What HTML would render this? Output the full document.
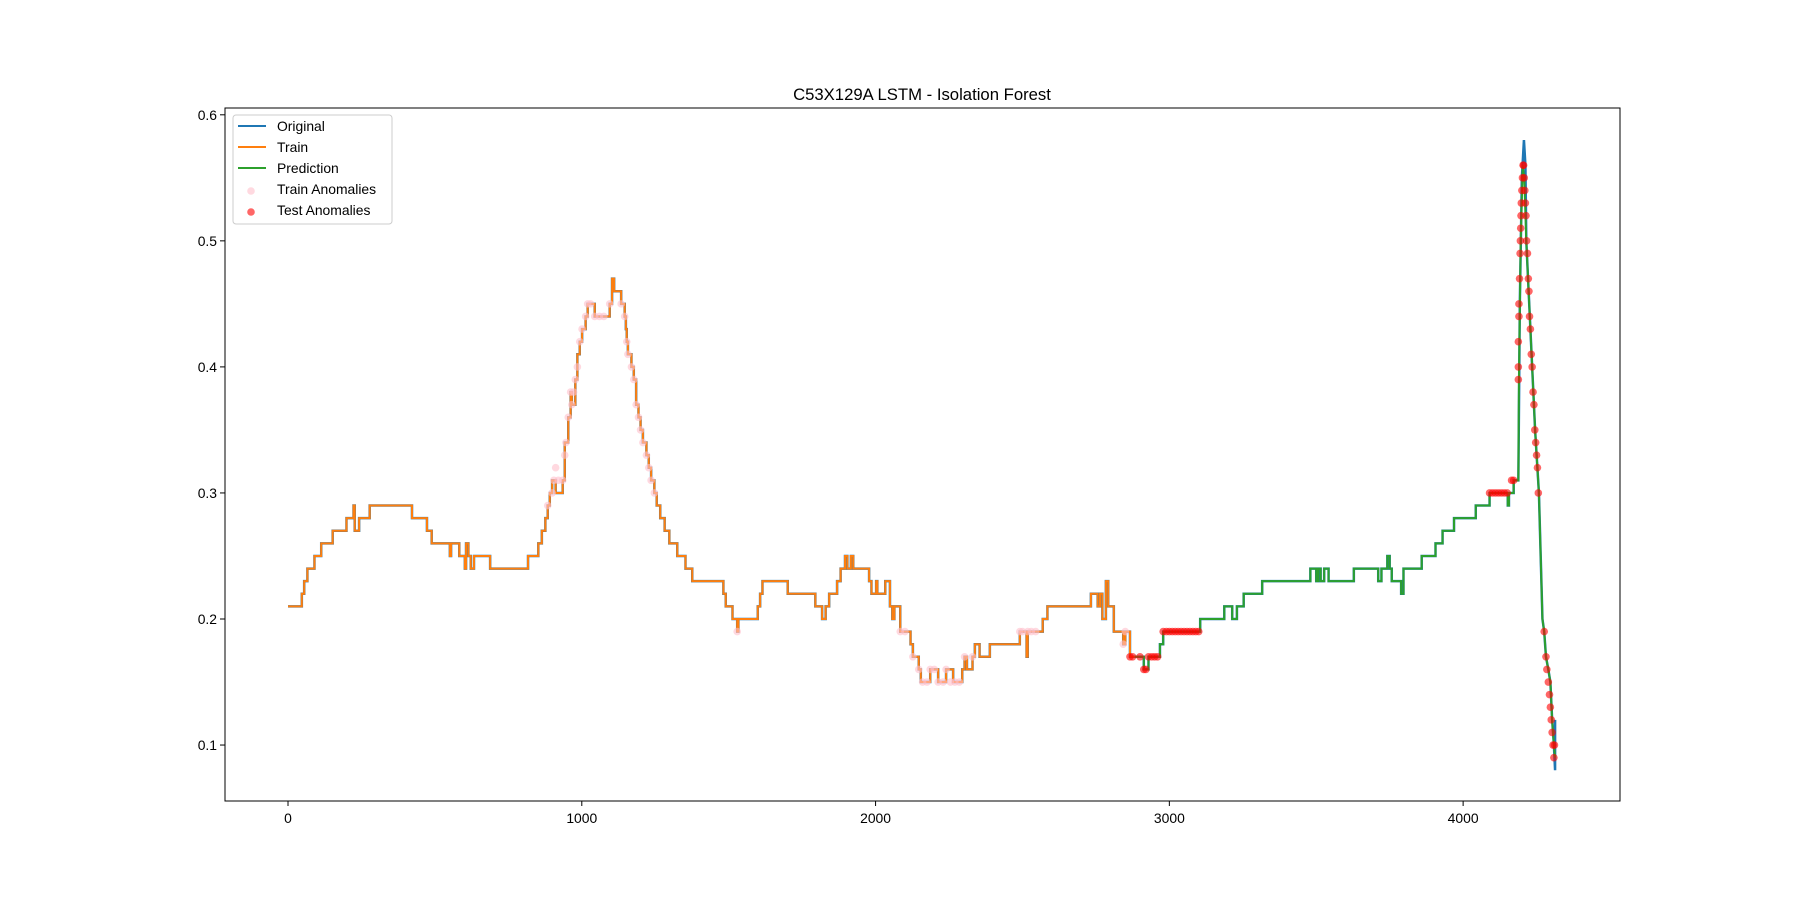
<!DOCTYPE html>
<html><head><meta charset="utf-8">
<style>
body{margin:0;background:#fff;}
svg{display:block;font-family:"Liberation Sans","DejaVu Sans",sans-serif;}
</style></head>
<body>
<svg id="chart" width="1800" height="900" viewBox="0 0 1800 900" xmlns="http://www.w3.org/2000/svg">
<rect x="0" y="0" width="1800" height="900" fill="#fff"/>
<text x="922" y="100" text-anchor="middle" font-size="16.7">C53X129A LSTM - Isolation Forest</text>
<g id="plot"></g>
<g id="axes"></g>
<rect x="225" y="108" width="1395" height="693" fill="none" stroke="#000" stroke-width="1"/>
<g>
<rect x="233" y="115" width="159" height="109" rx="3" fill="#fff" fill-opacity="0.8" stroke="#ccc"/>
<line x1="238" y1="126" x2="266" y2="126" stroke="#1f77b4" stroke-width="2"/>
<text x="277" y="131" font-size="13.9">Original</text>
<line x1="238" y1="147" x2="266" y2="147" stroke="#ff7f0e" stroke-width="2"/>
<text x="277" y="152" font-size="13.9">Train</text>
<line x1="238" y1="168" x2="266" y2="168" stroke="#2ca02c" stroke-width="2"/>
<text x="277" y="173" font-size="13.9">Prediction</text>
<circle cx="251" cy="191" r="3.8" fill="pink" fill-opacity="0.6"/>
<text x="277" y="194" font-size="13.9">Train Anomalies</text>
<circle cx="251" cy="212" r="3.8" fill="red" fill-opacity="0.6"/>
<text x="277" y="215" font-size="13.9">Test Anomalies</text>
</g>
</svg>
<script>
const xTicks=[0,1000,2000,3000,4000];
const yTicks=[0.1,0.2,0.3,0.4,0.5,0.6];
const yTickLabels=["0.1","0.2","0.3","0.4","0.5","0.6"];
const trainX=[0,47,55,66,90,113,152,199,223,227,
242,278,422,473,489,551,555,583,602,606,
614,622,633,688,817,852,864,876,884,891,
899,911,935,942,954,962,966,978,985,993,
1001,1013,1020,1044,1095,1103,1110,1134,1146,1150,
1153,1157,1169,1177,1185,1193,1200,1208,1220,1228,
1236,1247,1255,1267,1282,1298,1325,1353,1376,1482,
1490,1513,1529,1533,1599,1607,1615,1701,1795,1818,
1830,1842,1869,1881,1896,1904,1916,1924,1978,1986,
2002,2006,2033,2049,2057,2064,2084,2119,2127,2147,
2154,2186,2213,2240,2264,2295,2303,2311,2330,2338,
2354,2389,2491,2514,2518,2569,2585,2733,2756,2764,
2772,2784,2792,2811,2843,2850,2866,2882];
const trainY=[0.21,0.22,0.23,0.24,0.25,0.26,0.27,0.28,0.29,0.27,
0.28,0.29,0.28,0.27,0.26,0.25,0.26,0.25,0.24,0.26,
0.25,0.24,0.25,0.24,0.25,0.26,0.27,0.28,0.29,0.30,
0.31,0.30,0.31,0.34,0.36,0.38,0.37,0.39,0.41,0.42,
0.43,0.44,0.45,0.44,0.45,0.47,0.46,0.45,0.44,0.43,
0.42,0.41,0.40,0.39,0.37,0.36,0.35,0.34,0.33,0.32,
0.31,0.30,0.29,0.28,0.27,0.26,0.25,0.24,0.23,0.22,
0.21,0.20,0.19,0.20,0.21,0.22,0.23,0.22,0.21,0.20,
0.21,0.22,0.23,0.24,0.25,0.24,0.25,0.24,0.23,0.22,
0.23,0.22,0.23,0.21,0.20,0.21,0.19,0.18,0.17,0.16,
0.15,0.16,0.15,0.16,0.15,0.16,0.17,0.16,0.17,0.18,
0.17,0.18,0.19,0.17,0.19,0.20,0.21,0.22,0.21,0.22,
0.20,0.23,0.21,0.19,0.18,0.19,0.17,0.17];
const predX=[2882,2913,2929,2968,2979,3105,3187,3214,3230,3253,
3316,3480,3500,3507,3515,3527,3542,3628,3711,3722,
3742,3750,3757,3789,3797,3859,3906,3930,3969,4043,
4090,4152,4156,4172,4188];
const predY=[0.17,0.16,0.17,0.18,0.19,0.20,0.21,0.20,0.21,0.22,
0.23,0.24,0.23,0.24,0.23,0.24,0.23,0.24,0.23,0.24,
0.25,0.24,0.23,0.22,0.24,0.25,0.26,0.27,0.28,0.29,
0.30,0.29,0.30,0.31,0.31];
const predTailX=[4188,4190,4196,4203,4208,4215,4225,4235,4245,4258,4264,4270,4276,4282,4290,4297,4303,4309,4313];
const predTailY=[0.31,0.39,0.50,0.56,0.55,0.50,0.45,0.40,0.35,0.30,0.25,0.20,0.19,0.17,0.16,0.15,0.12,0.10,0.09];
const origTailX=[4188,4193,4200,4207,4212,4215,4225,4235,4245,4258,4264,4270,4276,4282,4290,4297,4303,4309,4313,4313];
const origTailY=[0.31,0.45,0.55,0.58,0.56,0.50,0.45,0.40,0.35,0.30,0.25,0.20,0.19,0.17,0.16,0.15,0.12,0.10,0.08,0.12];
const trainAnomX=[884,899,905,911,920,935,942,946,954,962,966,972,978,985,993,1001,1013,1020,1030,1044,1060,1075,1095,1134,1146,1153,1157,1169,1177,1185,1193,1200,1208,1220,1228,1236,1247,1529,2084,2100,2127,2147,2160,2175,2186,2200,2213,2230,2240,2255,2270,2285,2303,2330,2491,2500,2518,2530,2545,2843,2850];
const trainAnomY=[0.29,0.30,0.31,0.32,0.31,0.31,0.33,0.34,0.36,0.38,0.37,0.38,0.39,0.40,0.42,0.43,0.44,0.45,0.45,0.44,0.44,0.44,0.45,0.45,0.44,0.42,0.41,0.40,0.39,0.37,0.36,0.35,0.34,0.33,0.32,0.31,0.30,0.19,0.19,0.19,0.17,0.16,0.15,0.15,0.16,0.16,0.15,0.15,0.16,0.15,0.15,0.15,0.17,0.17,0.19,0.19,0.19,0.19,0.19,0.18,0.19];
const testAnomX=[2866,2875,2900,2913,2920,2929,2940,2950,2960,2979,2990,3000,3010,3020,3030,3040,3050,3060,3070,3080,3090,3100,4090,4100,4110,4120,4130,4140,4150,4165,4172,4188,4188,4188,4190,4190,4192,4194,4195,4196,4197,4198,4200,4202,4204,4206,4208,4210,4212,4214,4216,4219,4222,4224,4226,4229,4232,4235,4238,4241,4244,4247,4250,4253,4256,4276,4282,4285,4290,4294,4297,4300,4303,4306,4309,4311];
const testAnomY=[0.17,0.17,0.17,0.16,0.16,0.17,0.17,0.17,0.17,0.19,0.19,0.19,0.19,0.19,0.19,0.19,0.19,0.19,0.19,0.19,0.19,0.19,0.30,0.30,0.30,0.30,0.30,0.30,0.30,0.31,0.31,0.39,0.40,0.42,0.44,0.45,0.47,0.49,0.50,0.51,0.52,0.53,0.54,0.55,0.56,0.56,0.55,0.54,0.53,0.52,0.50,0.49,0.47,0.46,0.44,0.43,0.41,0.40,0.38,0.37,0.35,0.34,0.33,0.32,0.30,0.19,0.17,0.16,0.15,0.14,0.13,0.12,0.11,0.10,0.09,0.10];

const NS="http://www.w3.org/2000/svg";
const X0=225,X1=1620,Y0=801,Y1=108;
const xmin=-214.5,xmax=4534,ymin=0.0556,ymax=0.6054;
const sx=v=>X0+(v-xmin)/(xmax-xmin)*(X1-X0);
const sy=v=>Y0-(v-ymin)/(ymax-ymin)*(Y0-Y1);
const plot=document.getElementById('plot'),axes=document.getElementById('axes');
function mk(tag,attrs,parent){const e=document.createElementNS(NS,tag);for(const k in attrs)e.setAttribute(k,attrs[k]);parent.appendChild(e);return e;}
function stepPath(xs,ys){let d='M'+sx(xs[0])+','+sy(ys[0]);for(let i=1;i<xs.length;i++){d+='H'+sx(xs[i])+'V'+sy(ys[i]);}return d;}
function linePath(xs,ys){let d='';for(let i=0;i<xs.length;i++){d+=(i?'L':'M')+sx(xs[i])+','+sy(ys[i]);}return d;}
const cp=mk('clipPath',{id:'clip'},plot);mk('rect',{x:X0,y:Y1,width:X1-X0,height:Y0-Y1},cp);
plot.setAttribute('clip-path','url(#clip)');
let p=mk('path',{d:stepPath(trainX.concat(predX.slice(1)),trainY.concat(predY.slice(1)))+linePath(origTailX,origTailY).replace('M','L'),fill:'none',stroke:'#1f77b4','stroke-width':2.5},plot);


p=mk('path',{d:stepPath(trainX,trainY),fill:'none',stroke:'#ff7f0e','stroke-width':2},plot);


p=mk('path',{d:stepPath(predX,predY)+linePath(predTailX,predTailY).replace('M','L'),fill:'none',stroke:'#2ca02c','stroke-width':2},plot);


for(let i=0;i<trainAnomX.length;i++){
 const c=mk('circle',{cx:sx(trainAnomX[i]),cy:sy(trainAnomY[i]),r:3.8,fill:'pink','fill-opacity':0.6},plot);
 
 
}
for(let i=0;i<testAnomX.length;i++){
 const c=mk('circle',{cx:sx(testAnomX[i]),cy:sy(testAnomY[i]),r:3.8,fill:'red','fill-opacity':0.6},plot);
 
 
}
xTicks.forEach(v=>{
 const l=mk('line',{x1:sx(v),x2:sx(v),y1:Y0,y2:Y0+5,stroke:'#000'},axes);
 
 
 const t=mk('text',{x:sx(v),y:Y0+22,'text-anchor':'middle','font-size':13.9},axes);t.textContent=String(v);
 
 
});
yTicks.forEach((v,i)=>{
 const l=mk('line',{x1:X0-5,x2:X0,y1:sy(v),y2:sy(v),stroke:'#000'},axes);
 
 
 const t=mk('text',{x:X0-8,y:sy(v)+5,'text-anchor':'end','font-size':13.9},axes);t.textContent=yTickLabels[i];
 
 
});
</script>
</body></html>
